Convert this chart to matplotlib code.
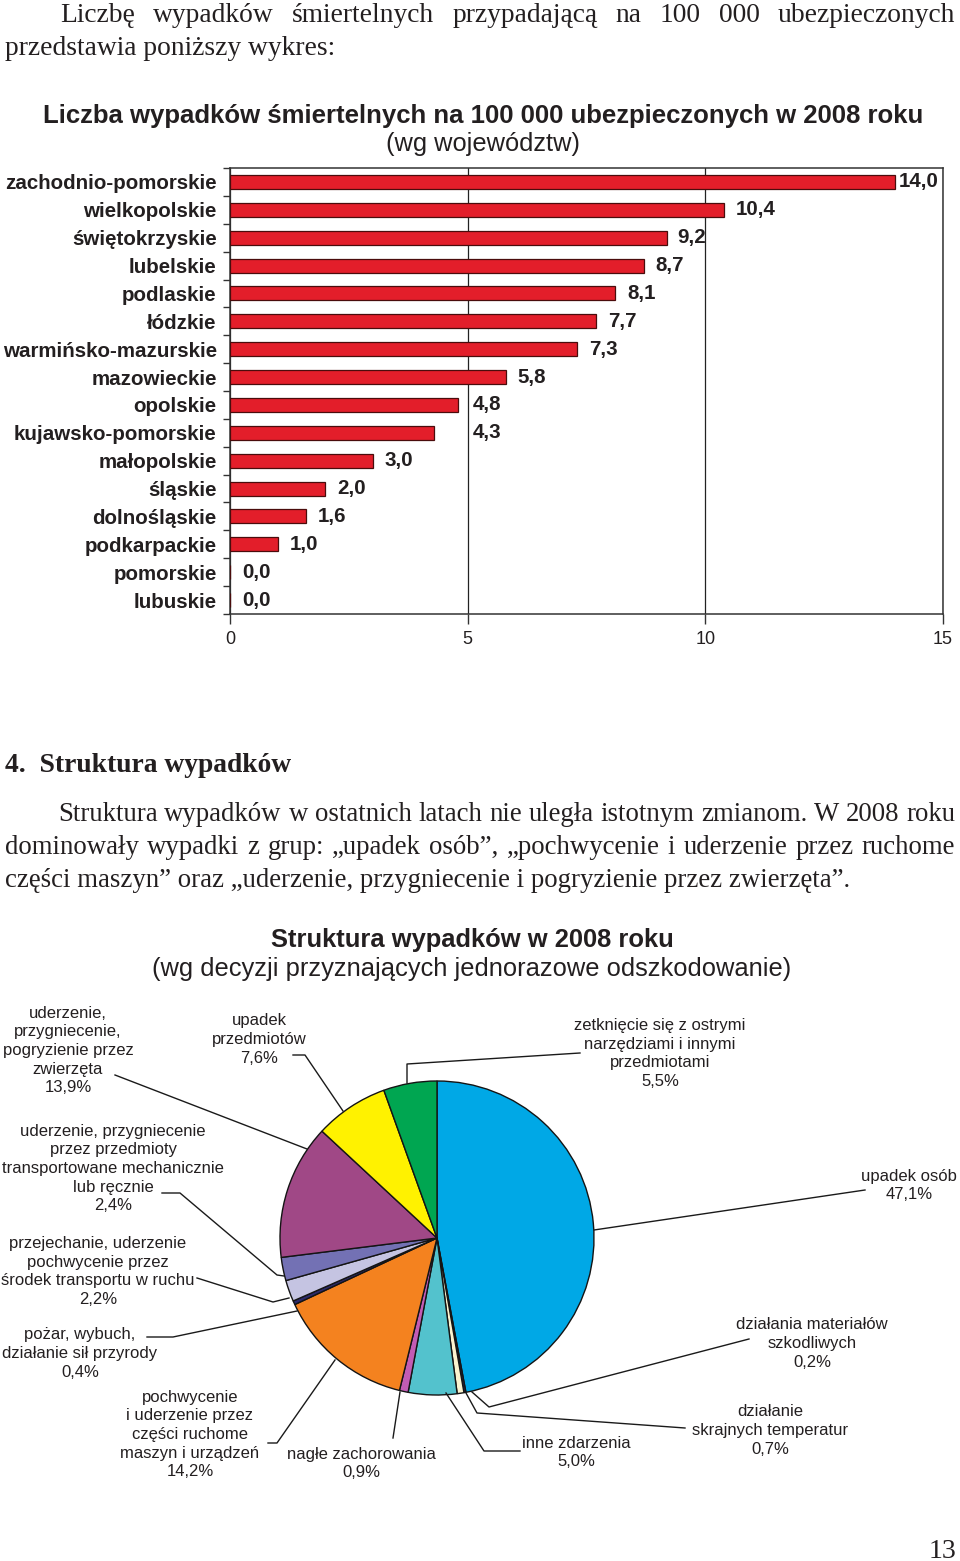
import matplotlib
matplotlib.use('Agg')
import matplotlib.pyplot as plt
import numpy as np

plt.rcParams['font.family'] = ['Liberation Sans', 'DejaVu Sans']

# wykres 1 - wypadki smiertelne na 100 000 ubezpieczonych, 2008
wojewodztwa = ['zachodnio-pomorskie', 'wielkopolskie', 'świętokrzyskie', 'lubelskie',
               'podlaskie', 'łódzkie', 'warmińsko-mazurskie', 'mazowieckie', 'opolskie',
               'kujawsko-pomorskie', 'małopolskie', 'śląskie', 'dolnośląskie',
               'podkarpackie', 'pomorskie', 'lubuskie']
wskaznik = [14.0, 10.4, 9.2, 8.7, 8.1, 7.7, 7.3, 5.8, 4.8, 4.3, 3.0, 2.0, 1.6, 1.0, 0.0, 0.0]
x_ticks = [0, 5, 10, 15]

# wykres 2 - struktura wypadkow 2008 (od godz. 12 zgodnie z zegarem)
przyczyny = [
    ['upadek osób'],
    ['działania materiałów', 'szkodliwych'],
    ['działanie', 'skrajnych temperatur'],
    ['inne zdarzenia'],
    ['nagłe zachorowania'],
    ['pochwycenie', 'i uderzenie przez', 'części ruchome', 'maszyn i urządzeń'],
    ['pożar, wybuch,', 'działanie sił przyrody'],
    ['przejechanie, uderzenie', 'pochwycenie przez', 'środek transportu w ruchu'],
    ['uderzenie, przygniecenie', 'przez przedmioty', 'transportowane mechanicznie', 'lub ręcznie'],
    ['uderzenie,', 'przygniecenie,', 'pogryzienie przez', 'zwierzęta'],
    ['upadek', 'przedmiotów'],
    ['zetknięcie się z ostrymi', 'narzędziami i innymi', 'przedmiotami'],
]
udzial = [47.1, 0.2, 0.7, 5.0, 0.9, 14.2, 0.4, 2.2, 2.4, 13.9, 7.6, 5.5]
kolory = ['#00a8e6', '#2b2758', '#fbf3cf', '#53c2cd', '#c25cb4', '#f4821f',
          '#2c2a6b', '#c5c4e2', '#7371b4', '#a04886', '#fff200', '#00a651']

# polozenie opisow (srodek bloku) i linii odniesienia, w pikselach strony
opis_xy = [(909, 1184), (812, 1342), (770, 1429), (576, 1451), (361, 1462), (190, 1433),
           (80, 1352), (98, 1270), (113, 1167), (68, 1049), (259, 1038), (660, 1052)]
linie = [
    [(594, 1230), (865, 1190)],
    [(472, 1392), (489, 1407), (749, 1339)],
    [(466, 1393), (477, 1413), (685, 1428)],
    [(446, 1393), (484, 1451), (520, 1451)],
    [(400, 1392), (393, 1438)],
    [(335, 1360), (277, 1443), (268, 1443)],
    [(297, 1311), (173, 1337), (147, 1337)],
    [(289, 1298), (273, 1302), (197, 1278)],
    [(284, 1276), (277, 1275), (180, 1193), (162, 1193)],
    [(307, 1149), (115, 1075)],
    [(343, 1111), (305, 1055), (293, 1055)],
    [(407, 1083), (407, 1064), (580, 1053)],
]

INK = '#231f20'
SERIF = ['Liberation Serif', 'DejaVu Serif']
W, H = 960, 1561

fig = plt.figure(figsize=(W / 100, H / 100), dpi=100)
page = fig.add_axes([0, 0, 1, 1])

# --- kolo
page.pie(udzial, colors=kolory, startangle=-90, counterclock=True,
         center=(437, 1238), radius=157, frame=True,
         wedgeprops=dict(edgecolor='#141414', linewidth=1.0))
page.set_xlim(0, W)
page.set_ylim(H, 0)
page.axis('off')

renderer = fig.canvas.get_renderer()


def justify(txt, x0, x1, y, size):
    words = txt.split(' ')
    arts = [page.text(0, y, w, fontsize=size, family=SERIF, va='baseline', color=INK)
            for w in words]
    widths = [a.get_window_extent(renderer).width for a in arts]
    gap = (x1 - x0 - sum(widths)) / (len(words) - 1)
    x = x0
    for a, w in zip(arts, widths):
        a.set_x(x)
        x += w + gap


def blok(xc, yc, lines, pitch=18.6, size=12, weight='normal'):
    n = len(lines)
    for k, s in enumerate(lines):
        page.text(xc, yc + (k - (n - 1) / 2) * pitch, s, ha='center',
                  va='center_baseline', fontsize=size, fontweight=weight, color=INK)


# --- tekst strony
justify('Liczbę wypadków śmiertelnych przypadającą na 100 000 ubezpieczonych', 60, 955, 22, 19.8)
page.text(5, 55, 'przedstawia poniższy wykres:', fontsize=19.8, family=SERIF,
          va='baseline', color=INK)

page.text(483, 113, 'Liczba wypadków śmiertelnych na 100 000 ubezpieczonych w 2008 roku',
          ha='center', va='center_baseline', fontsize=18.5, fontweight='bold', color=INK)
page.text(483, 141, '(wg województw)', ha='center', va='center_baseline',
          fontsize=18.3, color=INK)

page.text(5, 772, '4.  Struktura wypadków', fontsize=19.8, fontweight='bold',
          family=SERIF, va='baseline', color=INK)
justify('Struktura wypadków w ostatnich latach nie uległa istotnym zmianom. W 2008 roku',
        58, 955, 821, 19.3)
justify('dominowały wypadki z grup: „upadek osób”, „pochwycenie i uderzenie przez ruchome',
        5, 955, 854, 19.3)
page.text(5, 887, 'części maszyn” oraz „uderzenie, przygniecenie i pogryzienie przez zwierzęta”.',
          fontsize=19.3, family=SERIF, va='baseline', color=INK)

page.text(472, 937, 'Struktura wypadków w 2008 roku', ha='center', va='center_baseline',
          fontsize=18.4, fontweight='bold', color=INK)
page.text(472, 966, '(wg decyzji przyznających jednorazowe odszkodowanie)', ha='center',
          va='center_baseline', fontsize=18.4, color=INK)

page.text(956, 1558, '13', ha='right', va='baseline', fontsize=20, family=SERIF, color=INK)

# opisy kola
for lines, v, (xc, yc), pts in zip(przyczyny, udzial, opis_xy, linie):
    pct = f'{v:.1f}'.replace('.', ',') + '%'
    blok(xc, yc, lines + [pct])
    xs, ys = zip(*pts)
    page.plot(xs, ys, color='#1a1a1a', linewidth=1.0)

# --- wykres slupkowy
ax = fig.add_axes([230 / W, 1 - 614 / H, 713 / W, 446 / H])
n = len(wojewodztwa)
pos = np.arange(n)
ax.barh(pos, wskaznik, height=0.5, color='#e31e2a', edgecolor='#4a0c0c', linewidth=0.9, zorder=3)
ax.set_xlim(0, 15)
ax.set_ylim(n - 0.5, -0.5)
ax.set_xticks(x_ticks)
ax.set_xticklabels([str(t) for t in x_ticks], fontsize=13, color=INK)
ax.set_yticks(pos)
ax.set_yticklabels(wojewodztwa, fontsize=14.8, fontweight='bold', color=INK)
ax.set_yticks(np.arange(n + 1) - 0.5, minor=True)
ax.tick_params(axis='y', which='major', length=0, pad=9.5)
ax.tick_params(axis='y', which='minor', length=5, width=1, color='#333333')
ax.tick_params(axis='x', length=7, width=1, pad=5, color='#333333')
ax.grid(axis='x', color='#222222', linewidth=0.9, zorder=1)
for sp in ax.spines.values():
    sp.set_color('#333333')
    sp.set_linewidth(1.1)

label_x = {8: 5.11, 9: 5.11, 0: 14.07, 2: 9.4}
for i, v in enumerate(wskaznik):
    lx = label_x.get(i, v + 0.25)
    ax.text(lx, i, f'{v:.1f}'.replace('.', ','), va='center', ha='left',
            fontsize=14.8, fontweight='bold', color=INK, zorder=4)

fig.savefig('out.png', dpi=100)
